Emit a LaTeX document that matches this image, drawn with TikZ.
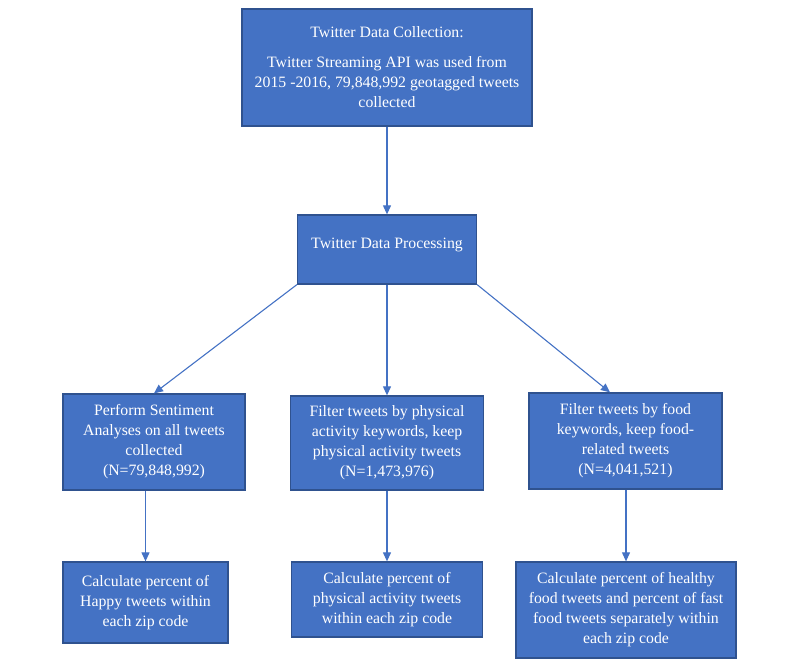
\documentclass[tikz,border=0pt]{standalone}
\usepackage{fontspec}
\setmainfont{Liberation Serif}
\usetikzlibrary{arrows.meta,calc}
\definecolor{boxfill}{HTML}{4472C4}
\definecolor{boxline}{HTML}{2F528F}
\begin{document}
\begin{tikzpicture}[x=1pt,y=-1pt,
  box/.style={draw=boxline, line width=1.3pt, fill=boxfill, text=white, align=center, inner sep=0pt, font=\fontsize{15.8}{20}\selectfont},
  conn/.style={draw=boxfill, line width=1.1pt, -{Triangle[length=9pt,width=8pt]}}]
\useasboundingbox (0,0) rectangle (800,669);
\node[box, minimum width=290pt, minimum height=117pt] (b1) at (387,67.5)
  {Twitter Data Collection:\\[10pt]Twitter Streaming API was used from\\2015 -2016, 79,848,992 geotagged tweets\\collected};
\node[box, minimum width=179pt, minimum height=69pt] (b2) at (387,249.5)
  {Twitter Data Processing\rule[-13pt]{0pt}{13pt}};
\node[box, minimum width=182pt, minimum height=96pt] (b3) at (154,442)
  {Perform Sentiment\\Analyses on all tweets\\collected\\(N=79,848,992)};
\node[box, minimum width=193pt, minimum height=94pt] (b4) at (387,443)
  {Filter tweets by physical\\activity keywords, keep\\physical activity tweets\\(N=1,473,976)};
\node[box, minimum width=193pt, minimum height=96pt] (b5) at (625.5,441)
  {Filter tweets by food\\keywords, keep food-\\related tweets\\(N=4,041,521)};
\node[box, minimum width=165pt, minimum height=81pt] (b6) at (145.5,602.5)
  {Calculate percent of\\Happy tweets within\\each zip code};
\node[box, minimum width=191pt, minimum height=75pt] (b7) at (387,599.5)
  {Calculate percent of\\physical activity tweets\\within each zip code};
\node[box, minimum width=220pt, minimum height=96pt] (b8) at (626,610)
  {Calculate percent of healthy\\food tweets and percent of fast\\food tweets separately within\\each zip code};
\coordinate (b5in) at ($(b5.north west)!0.42!(b5.north east)$);
\draw[conn] (b1.south) -- (b2.north);
\draw[conn] (b2.south west) -- (b3.north);
\draw[conn] (b2.south) -- (b4.north);
\draw[conn] (b2.south east) -- (b5in);
\draw[conn] (b6.north |- b3.south) -- (b6.north);
\draw[conn] (b7.north |- b4.south) -- (b7.north);
\draw[conn] (b8.north |- b5.south) -- (b8.north);
\end{tikzpicture}
\end{document}
